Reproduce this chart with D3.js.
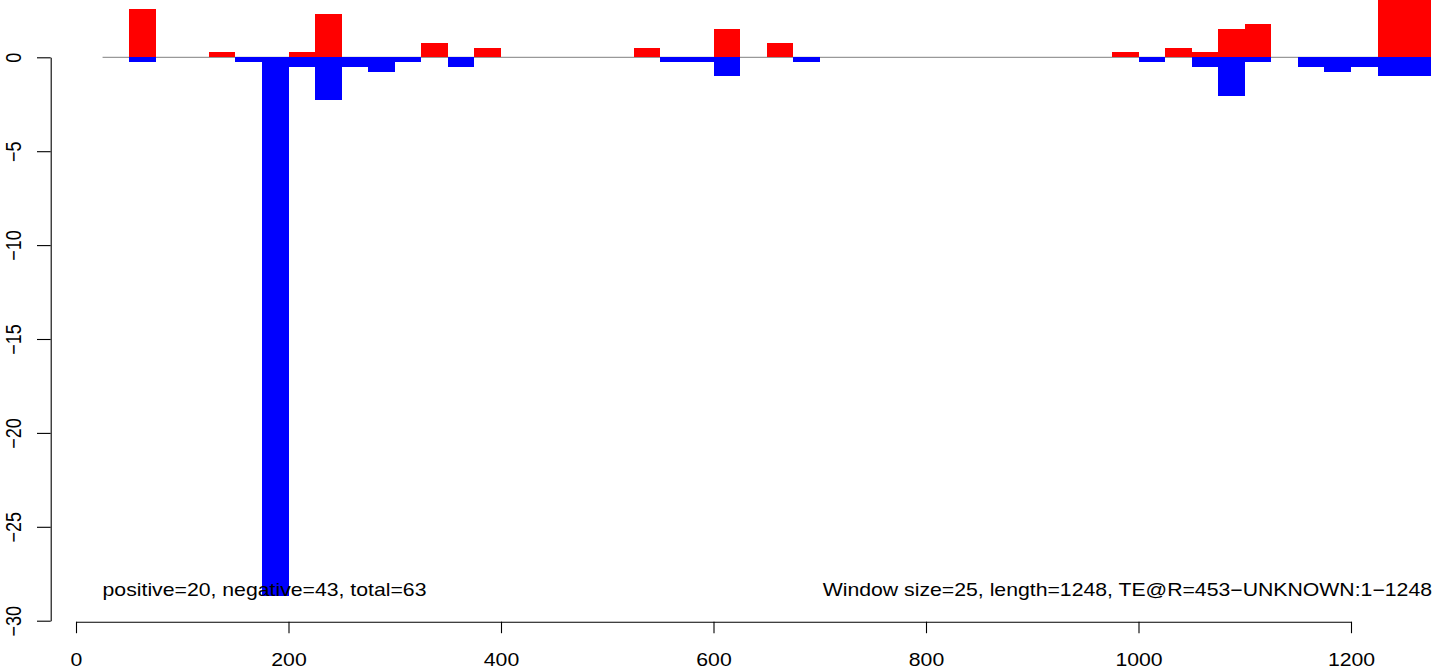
<!DOCTYPE html>
<html>
<head>
<meta charset="utf-8">
<script src="https://cdn.jsdelivr.net/npm/d3@7"></script>
<style>
  html, body { margin: 0; padding: 0; background: #fff; }
  svg { display: block; }
  text { font-family: "Liberation Sans", Arial, Helvetica, sans-serif; fill: #000; }
</style>
</head>
<body>
<svg id="chart" width="1444" height="667"></svg>
<script>
// ---- data ----
const windowSize = 25;
const posStarts = [50, 125, 200, 225, 325, 375, 525, 600, 650, 975, 1025, 1050, 1075, 1100, 1225, 1250];
const posValues = [2.55, 0.26, 0.26, 2.29, 0.77, 0.51, 0.51, 1.53, 0.77, 0.26, 0.51, 0.26, 1.53, 1.78, 3.6, 3.6];
const negStarts = [50, 150, 175, 200, 225, 250, 275, 300, 350, 550, 575, 600, 675, 1000, 1050, 1075, 1100, 1150, 1175, 1200, 1225, 1250];
const negValues = [-0.26, -0.26, -28.7, -0.51, -2.29, -0.51, -0.77, -0.26, -0.51, -0.26, -0.26, -1.02, -0.26, -0.26, -0.51, -2.04, -0.26, -0.51, -0.77, -0.51, -1.02, -1.02];
const xTicks = [0, 200, 400, 600, 800, 1000, 1200];
const yTicks = [0, -5, -10, -15, -20, -25, -30];
const zeroLineRange = [25, 1275];
const leftLabel = "positive=20, negative=43, total=63";
const rightLabel = "Window size=25, length=1248, TE@R=453\u2212UNKNOWN:1\u22121248";

// ---- layout ----
const sx = 1.18;          // horizontal stretch of the original picture
const fontSize = 18;
const svg = d3.select("#chart");
const x = d3.scaleLinear().domain([0, 1200]).range([76, 1351]);
const y = d3.scaleLinear().domain([0, -30]).range([57.3, 620.7]);
const fmt = v => (v < 0 ? "\u2212" + Math.abs(v) : String(v));

// zero line
svg.append("line")
  .attr("x1", x(zeroLineRange[0])).attr("x2", x(zeroLineRange[1]))
  .attr("y1", y(0)).attr("y2", y(0))
  .attr("stroke", "#808080").attr("stroke-width", 1);

// bars
svg.append("g").attr("shape-rendering", "crispEdges").selectAll("rect")
  .data(posStarts.map((s, i) => ({ s, v: posValues[i] })))
  .join("rect")
  .attr("x", d => x(d.s)).attr("width", d => x(d.s + windowSize) - x(d.s))
  .attr("y", d => y(d.v)).attr("height", d => y(0) - y(d.v))
  .attr("fill", "#ff0000");

svg.append("g").attr("shape-rendering", "crispEdges").selectAll("rect")
  .data(negStarts.map((s, i) => ({ s, v: negValues[i] })))
  .join("rect")
  .attr("x", d => x(d.s)).attr("width", d => x(d.s + windowSize) - x(d.s))
  .attr("y", y(0)).attr("height", d => y(d.v) - y(0))
  .attr("fill", "#0000ff");

// x axis
const xAxisY = 621.7;
const gx = svg.append("g").attr("transform", `translate(0,${xAxisY})`)
  .call(d3.axisBottom(x).tickValues(xTicks).tickSizeInner(11.5).tickSizeOuter(0).tickFormat(""));
gx.selectAll("path, line").attr("stroke", "#000").attr("stroke-width", 1.1);
gx.selectAll(".tick").each(function(d) {
  d3.select(this).append("text")
    .attr("transform", `translate(0,${665.5 - xAxisY}) scale(${sx},1)`)
    .attr("text-anchor", "middle")
    .attr("font-size", fontSize)
    .attr("fill", "#000")
    .text(fmt(d));
});

// y axis
const yAxisX = 50.7;
const gy = svg.append("g").attr("transform", `translate(${yAxisX},0)`)
  .call(d3.axisLeft(y).tickValues(yTicks).tickSizeInner(13.7).tickSizeOuter(0).tickFormat(""));
gy.selectAll("path, line").attr("stroke", "#000").attr("stroke-width", 1.1);
gy.selectAll(".tick").each(function(d) {
  d3.select(this).append("text")
    .attr("transform", `translate(${21 - yAxisX},0) scale(${sx},1) rotate(-90)`)
    .attr("text-anchor", "middle")
    .attr("font-size", fontSize)
    .attr("fill", "#000")
    .text(fmt(d));
});

// annotations
svg.append("text")
  .attr("transform", `translate(${x(25)},596) scale(${sx},1)`)
  .attr("font-size", fontSize)
  .text(leftLabel);
svg.append("text")
  .attr("transform", `translate(1432,596) scale(${sx},1)`)
  .attr("text-anchor", "end")
  .attr("font-size", fontSize)
  .text(rightLabel);
</script>
</body>
</html>
